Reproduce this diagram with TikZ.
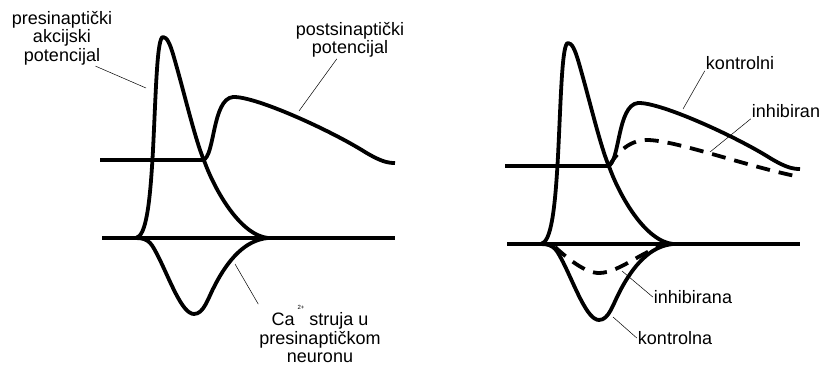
\documentclass[tikz,border=0pt]{standalone}
\usepackage{fontspec}
\setmainfont{Liberation Sans}
\usetikzlibrary{positioning}

\begin{document}
\begin{tikzpicture}[
    x=1pt, y=-1pt,
    every node/.style={font=\fontsize{18}{18.5}\selectfont, align=center, inner sep=1pt},
    trace/.style={line width=3.8pt, line join=round},
    inhib/.style={trace, dash pattern=on 14pt off 9pt},
    leader/.style={line width=0.5pt},
]
\useasboundingbox (0,0) rectangle (834,365);

% both panels: baselines, action potential, Ca current, control PSP
\foreach \sx/\sy in {0/0, 405/6} {
\begin{scope}[shift={(\sx,\sy)}]
\draw[trace] (100,160) -- (203,160);
\draw[trace] (102,238) -- (395,238);
\draw[trace] (136,238) .. controls (146,236) and (150,205) .. (153,150)
    .. controls (156,90) and (157,37) .. (163,37)
    .. controls (167,37) and (170,44) .. (173,54)
    .. controls (185,95) and (195,140) .. (205,163)
    .. controls (215,190) and (240,235) .. (268,238);
\draw[trace] (136,238) .. controls (150,238) and (152,245) .. (158,256)
    .. controls (170,280) and (182,314) .. (194,314)
    .. controls (204,314) and (208,298) .. (215,285)
    .. controls (228,260) and (245,240) .. (268,238);
\draw[trace] (203,160) .. controls (215,157) and (212,99) .. (233,97)
    .. controls (255,96) and (330,130) .. (365,152)
    .. controls (380,161) and (387,163) .. (395,163);
\end{scope}
}

% inhibited traces (right panel)
\begin{scope}[shift={(405,6)}]
\draw[inhib] (204,160) .. controls (210,150) and (222,134) .. (242,134)
    .. controls (270,134) and (340,160) .. (395,171);
\draw[inhib] (150,241) .. controls (162,252) and (180,267) .. (194,267)
    .. controls (215,267) and (240,242) .. (265,238);
\end{scope}

% labels
\node (lbAP) at (62,38) {presinaptički\\akcijski\\potencijal};
\node (lbPSP) at (350,40) {postsinaptički\\potencijal};
\node (lbCa) at (320,334) {Ca\,\raisebox{16pt}{\fontsize{6}{6}\selectfont 2+}\ struja u\\presinaptičkom\\neuronu};
\node (lbKi) at (740,63) {kontrolni};
\node (lbIn) at (786,111) {inhibiran};
\node (lbIna) at (693,297) {inhibirana};
\node (lbKa) at (675,338) {kontrolna};

\coordinate (apEnd) at (146,88);
\coordinate (pspEnd) at (299,111);
\coordinate (caEnd) at (235,264);
\coordinate (kiEnd) at (683,109);
\coordinate (inEnd) at (710,152);
\coordinate (inaEnd) at (622,271);
\coordinate (kaEnd) at (613,317);

\draw[leader] (lbAP.-40) -- (apEnd);
\draw[leader] (lbPSP.-125) -- (pspEnd);
\draw[leader] (lbCa.north west) -- (caEnd);
\draw[leader] (lbKi.south west) -- (kiEnd);
\draw[leader] (lbIn.south west) -- (inEnd);
\draw[leader] (lbIna.west) -- (inaEnd);
\draw[leader] (lbKa.west) -- (kaEnd);

\end{tikzpicture}
\end{document}
